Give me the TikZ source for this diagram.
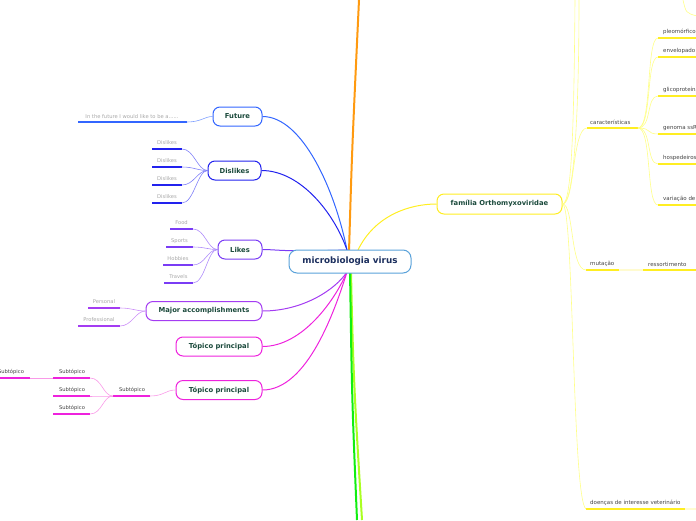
\documentclass[tikz,border=0pt]{standalone}
\usepackage{fontspec}
\setmainfont{DejaVu Sans}
\pgfdeclarelayer{bg}
\pgfsetlayers{bg,main}
\begin{document}
\begin{tikzpicture}[x=1pt,y=-1pt,
  mm/.style={draw, rounded corners=7pt, line width=1pt, fill=white, inner sep=0pt,
    minimum height=19pt, font=\bfseries\fontsize{6.8}{7}\selectfont, text=nodetext},
  leaf/.style={inner sep=0pt, font=\fontsize{5.2}{6}\selectfont, text=leafgray},
  rleaf/.style={inner sep=0pt, font=\fontsize{5.5}{6}\selectfont, text=darktext, anchor=west},
  ul/.style={line width=1.3pt},
  con/.style={line width=0.6pt},
  br/.style={line width=1pt}]
\definecolor{nodetext}{HTML}{1B4A3C}
\definecolor{leafgray}{HTML}{A8A8A8}
\definecolor{darktext}{HTML}{444444}
\definecolor{cblue}{HTML}{5AA2DA}
\definecolor{cnavy}{HTML}{1C2F5E}
\definecolor{cfut}{HTML}{3366FF}
\definecolor{cfutl}{HTML}{7FA0FF}
\definecolor{cdis}{HTML}{2222EE}
\definecolor{cdisl}{HTML}{8080F8}
\definecolor{clik}{HTML}{7A3CF5}
\definecolor{clikl}{HTML}{AF8CFA}
\definecolor{cmaj}{HTML}{A43CF2}
\definecolor{cmajl}{HTML}{CC90F8}
\definecolor{ctop}{HTML}{EE22DD}
\definecolor{ctopl}{HTML}{F99AE8}
\definecolor{corange}{HTML}{FF9A10}
\definecolor{cgreen}{HTML}{11EE11}
\definecolor{clime}{HTML}{AAFF22}
\definecolor{cyel}{HTML}{FFEE22}
\definecolor{cyell}{HTML}{FFFF88}
\definecolor{cyelf}{HTML}{FFFBD0}
\useasboundingbox (0,0) rectangle (696,520);

% hub coordinates
\coordinate (hubT) at (347,250);
\coordinate (hubB) at (347,272);
\coordinate (hubR) at (358,250);

% ---------- nodes ----------
\node[draw=cblue, line width=1pt, fill=white, rounded corners=8pt, minimum width=122pt,
  minimum height=23pt, inner sep=0pt, text=cnavy, font=\bfseries\fontsize{8.8}{9}\selectfont] (cen) at (350,261.5) {microbiologia virus};
\node[mm, draw=cfut, minimum width=49pt] (fut) at (237.5,116.5) {Future};
\node[mm, draw=cdis, minimum width=53pt] (dis) at (234.5,170.5) {Dislikes};
\node[mm, draw=clik, minimum width=44pt] (lik) at (240,249.5) {Likes};
\node[mm, draw=cmaj, minimum width=116pt] (maj) at (204,311) {Major accomplishments};
\node[mm, draw=ctop, minimum width=86pt] (top1) at (219,346.5) {Tópico principal};
\node[mm, draw=ctop, minimum width=86pt] (top2) at (219,390) {Tópico principal};
\node[mm, draw=cyel, minimum width=125pt, minimum height=20pt, font=\bfseries\fontsize{6.8}{7}\selectfont] (fam) at (499.5,204) {família Orthomyxoviridae};

\begin{pgfonlayer}{bg}
% ---------- main branches (vertical) ----------
\coordinate (orTop) at (359,0);
\coordinate (grBot) at (357,520);
\coordinate (liBot) at (362,520);
\draw[corange, line width=2pt] (349,252) .. controls (352,150) .. (orTop);
\draw[clime, line width=2pt] (351,270) .. controls (353,380) and (356,420) .. (liBot);
\draw[cgreen, line width=2pt] (350,270) .. controls (352,400) .. (grBot);

% connectors from hub to main nodes
\draw[cfut, br] (fut.east) .. controls +(40,0) and (335,190) .. (hubT);
\draw[cdis, br] (dis.east) .. controls +(40,0) and (335,215) .. (hubT);
\draw[clik, br] (lik.east) .. controls +(15,0) and (280,252) .. (hubT);
\draw[cmaj, br] (maj.east) .. controls +(40,0) and (335,290) .. (hubB);
\draw[ctop, br] (top1.east) .. controls +(40,0) and (335,300) .. (hubB);
\draw[ctop, br] (top2.east) .. controls +(45,0) and (335,310) .. (hubB);
\draw[cyel, br] (hubR) .. controls (375,215) and (410,204) .. (fam.west);
\end{pgfonlayer}

% ---------- Future leaf ----------
\coordinate (fa) at (78,122); \coordinate (fb) at (187,122);
\draw[cfut, ul] (fa) -- (fb);
\node[leaf] (ft) at (132,116.5) {In the future I would like to be a......};
\draw[cfutl, con] (fb) .. controls +(14,0) and +(-8,0) .. (fut.west);

% ---------- Dislikes leaves ----------
\foreach \i/\y in {1/149,2/167,3/185,4/203}{
  \coordinate (da\i) at (152,\y); \coordinate (db\i) at (182,\y);
  \draw[cdis, ul] (da\i) -- (db\i);
  \node[leaf] (dt\i) at (167,\y-6) {Dislikes};
  \draw[cdisl, con] (db\i) .. controls +(12,0) and +(-10,0) .. (dis.west);
}

% ---------- Likes leaves ----------
\foreach \i/\y/\x/\t in {1/229/170/Food,2/247/166/Sports,3/265/163/Hobbies,4/283/164/Travels}{
  \coordinate (la\i) at (\x,\y); \coordinate (lb\i) at (193,\y);
  \draw[clik, ul] (la\i) -- (lb\i);
  \node[leaf] (lt\i) at ({(\x+193)/2},\y-6) {\t};
  \draw[clikl, con] (lb\i) .. controls +(12,0) and +(-10,0) .. (lik.west);
}

% ---------- Major leaves ----------
\coordinate (ma1) at (88,308); \coordinate (mb1) at (120,308);
\coordinate (ma2) at (78,326); \coordinate (mb2) at (120,326);
\draw[cmaj, ul] (ma1) -- (mb1);
\draw[cmaj, ul] (ma2) -- (mb2);
\node[leaf] (mt1) at (104,302) {Personal};
\node[leaf] (mt2) at (99,320) {Professional};
\draw[cmajl, con] (mb1) .. controls +(12,0) and +(-10,0) .. (maj.west);
\draw[cmajl, con] (mb2) .. controls +(12,0) and +(-10,0) .. (maj.west);

% ---------- Subtópicos ----------
\coordinate (sa) at (113,396); \coordinate (sb) at (150,396);
\draw[ctop, ul] (sa) -- (sb);
\node[leaf, text=darktext] (st) at (132,390) {Subtópico};
\draw[ctopl, con] (sb) .. controls +(14,0) and +(-10,0) .. (top2.west);
\foreach \i/\y in {1/378,2/396,3/414}{
  \coordinate (sa\i) at (53,\y); \coordinate (sb\i) at (90,\y);
  \draw[ctop, ul] (sa\i) -- (sb\i);
  \node[leaf, text=darktext] (st\i) at (72,\y-6) {Subtópico};
  \draw[ctopl, con] (sb\i) .. controls +(12,0) and +(-10,0) .. (sa);
}
\coordinate (sxa) at (-8,378); \coordinate (sxb) at (30,378);
\draw[ctop, ul] (sxa) -- (sxb);
\node[leaf, text=darktext] (stx) at (11,372) {Subtópico};
\draw[ctopl, con] (sxb) -- (sa1);

% ---------- família branches ----------
\coordinate (ft1) at (575,0); \coordinate (ft2) at (579,0);
\draw[cyell, con] (fam.east) .. controls (572,204) and (574,120) .. (ft1);
\draw[cyell, con] (fam.east) .. controls (575,204) and (579,100) .. (ft2);
\coordinate (arcA) at (683,0); \coordinate (arcB) at (697,16);
\draw[cyell, con] (arcA) .. controls (686,13) .. (arcB);

% características
\coordinate (ca) at (587,128); \coordinate (cb) at (638,128);
\draw[cyel, ul] (ca) -- (cb);
\node[rleaf] (ct) at (590,122) {características};
\draw[cyell, con] (fam.east) .. controls (575,204) and (572,128) .. (ca);
\foreach \i/\y/\t in {1/38/pleomórfico,2/57/envelopado,3/96/glicoproteína,4/134/genoma ssR,5/164/hospedeiros,6/205/variação de}{
  \coordinate (pa\i) at (658,\y); \coordinate (pb\i) at (700,\y);
  \draw[cyel, ul] (pa\i) -- (pb\i);
  \node[rleaf] (pt\i) at (663,\y-6) {\t};
  \draw[cyell, con] (cb) .. controls +(14,0) and +(-12,0) .. (pa\i);
}

% mutação
\coordinate (mua) at (586,270); \coordinate (mub) at (619,270);
\draw[cyel, ul] (mua) -- (mub);
\node[rleaf] (mut) at (590,264) {mutação};
\draw[cyell, con] (fam.east) .. controls (574,204) and (570,270) .. (mua);
\coordinate (ra) at (643,270); \coordinate (rb) at (700,270);
\draw[cyelf, ul] (mub) -- (ra);
\draw[cyel, ul] (ra) -- (rb);
\node[rleaf] (rt) at (648,264) {ressortimento};

% doenças
\coordinate (doa) at (586,509); \coordinate (dob) at (685,509); \coordinate (doc) at (700,509);
\draw[cyel, ul] (doa) -- (dob);
\draw[cyelf, ul] (dob) -- (doc);
\node[rleaf] (dot) at (590,503) {doenças de interesse veterinário};
\draw[cyell, con] (fam.east) .. controls (574,204) and (572,500) .. (doa);
\end{tikzpicture}
\end{document}
